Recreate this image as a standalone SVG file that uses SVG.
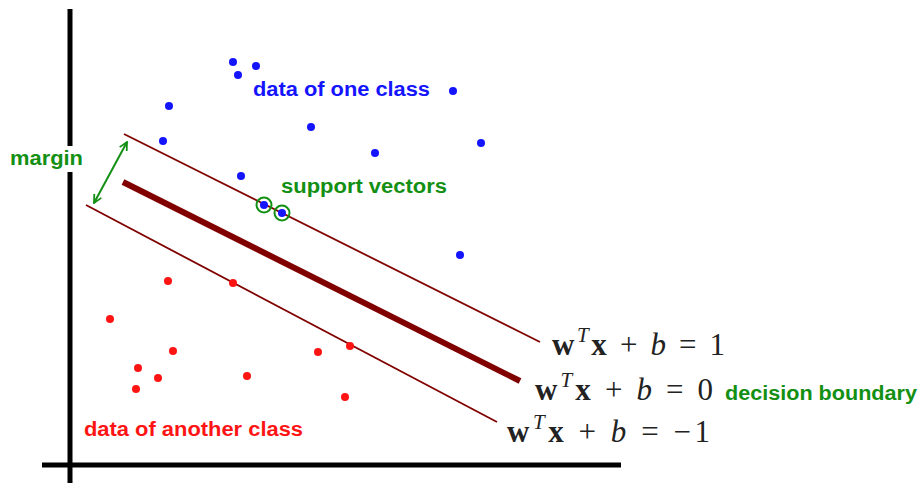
<svg xmlns="http://www.w3.org/2000/svg" width="923" height="483" viewBox="0 0 923 483">
<defs>
<style>
.lbl{font-family:"Liberation Sans",Arial,sans-serif;font-weight:bold;font-size:20px}
.math{font-family:"Liberation Serif","Times New Roman",serif;font-size:31px;fill:#222}
.b{fill:#1414ff}
.r{fill:#ff1414}
.sv{fill:none;stroke:#139013;stroke-width:2}
</style>
<marker id="ah" viewBox="0 0 10 10" refX="9" refY="5" markerWidth="10" markerHeight="10" orient="auto-start-reverse" markerUnits="userSpaceOnUse">
<path d="M1,1 L9,5 L1,9" fill="none" stroke="#139013" stroke-width="1.8"/>
</marker>
</defs>
<rect width="923" height="483" fill="#fff"/>
<g id="axes" stroke="#000" stroke-width="5">
<line x1="70" y1="9" x2="70" y2="483"/>
<line x1="42" y1="465" x2="621" y2="465"/>
</g>
<g id="connectors">
<line id="plus-plane" x1="124" y1="134" x2="540" y2="342" stroke="#800000" stroke-width="1.8"/>
<line id="decision" x1="123" y1="182" x2="520" y2="381" stroke="#800000" stroke-width="6"/>
<line id="minus-plane" x1="86" y1="205" x2="497" y2="422" stroke="#800000" stroke-width="1.8"/>
<line id="margin-arrow" x1="127" y1="142" x2="94" y2="203" stroke="#139013" stroke-width="2" marker-start="url(#ah)" marker-end="url(#ah)"/>
</g>
<g id="blue-points" class="b">
<circle cx="233" cy="62" r="4"/><circle cx="238" cy="75" r="4"/><circle cx="256" cy="66" r="4"/>
<circle cx="169" cy="106" r="4"/><circle cx="163" cy="141" r="4"/><circle cx="311" cy="127" r="4"/>
<circle cx="375" cy="153" r="4"/><circle cx="453" cy="91" r="4"/><circle cx="481" cy="143" r="4"/>
<circle cx="241" cy="176" r="4"/><circle cx="264" cy="205" r="4"/><circle cx="282" cy="213" r="4"/>
<circle cx="460" cy="255" r="4"/>
</g>
<g id="red-points" class="r">
<circle cx="168" cy="281" r="4"/><circle cx="233" cy="283" r="4"/><circle cx="110" cy="319" r="4"/>
<circle cx="173" cy="351" r="4"/><circle cx="138" cy="368" r="4"/><circle cx="158" cy="378" r="4"/>
<circle cx="136" cy="389" r="4"/><circle cx="247" cy="376" r="4"/><circle cx="318" cy="352" r="4"/>
<circle cx="350" cy="346" r="4"/><circle cx="345" cy="397" r="4"/>
</g>
<g id="support-vectors">
<circle class="sv" cx="264" cy="205" r="7.5"/>
<circle class="sv" cx="282" cy="213" r="7.5"/>
<text class="lbl" x="281" y="193" fill="#139013" textLength="166" lengthAdjust="spacingAndGlyphs">support vectors</text>
</g>
<g id="margin">
<rect x="8" y="146" width="78" height="26" fill="#fff"/>
<text class="lbl" x="10" y="165" fill="#139013" textLength="73" lengthAdjust="spacingAndGlyphs">margin</text>
</g>
<g id="label-one-class"><text class="lbl b" x="253" y="96" textLength="177" lengthAdjust="spacingAndGlyphs">data of one class</text></g>
<g id="label-another-class"><text class="lbl r" x="84" y="436" textLength="219" lengthAdjust="spacingAndGlyphs">data of another class</text></g>
<g id="label-decision"><text class="lbl" x="725" y="400" fill="#139013" textLength="192" lengthAdjust="spacingAndGlyphs">decision boundary</text></g>
<g id="eq-plus"><text class="math" x="552" y="355" textLength="173" lengthAdjust="spacing"><tspan font-weight="bold">w</tspan><tspan font-style="italic" font-size="21" dy="-13">T</tspan><tspan font-weight="bold" dy="13">x</tspan><tspan> + </tspan><tspan font-style="italic">b</tspan><tspan> = 1</tspan></text></g>
<g id="eq-zero"><text class="math" x="535" y="400" textLength="178" lengthAdjust="spacing"><tspan font-weight="bold">w</tspan><tspan font-style="italic" font-size="21" dy="-13">T</tspan><tspan font-weight="bold" dy="13">x</tspan><tspan> + </tspan><tspan font-style="italic">b</tspan><tspan> = 0</tspan></text></g>
<g id="eq-minus"><text class="math" x="507" y="442" textLength="203" lengthAdjust="spacing"><tspan font-weight="bold">w</tspan><tspan font-style="italic" font-size="21" dy="-13">T</tspan><tspan font-weight="bold" dy="13">x</tspan><tspan> + </tspan><tspan font-style="italic">b</tspan><tspan> = −1</tspan></text></g>
</svg>
